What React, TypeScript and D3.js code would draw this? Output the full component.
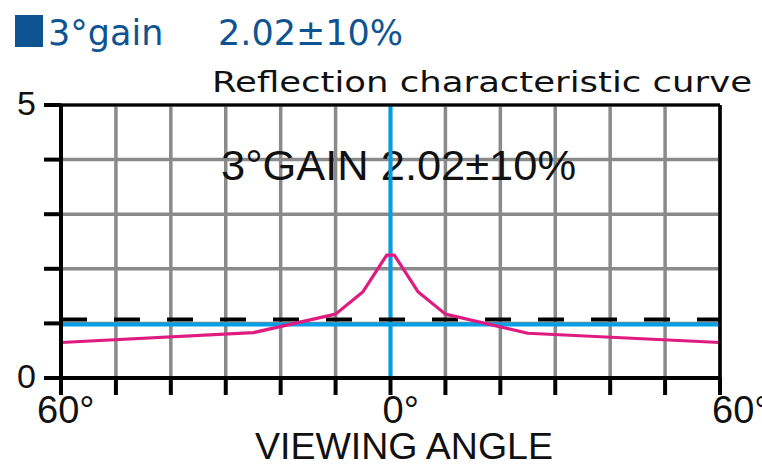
import React from "react";
import * as d3 from "d3";

// ---- data ----
const angles = [-60, -25, -10, -5, -0.7, 0.7, 5, 10, 25, 60];
const gains = [0.65, 0.83, 1.17, 1.58, 2.25, 2.25, 1.58, 1.17, 0.82, 0.65];
const xTickValues = [-60, -50, -40, -30, -20, -10, 0, 10, 20, 30, 40, 50, 60];
const yTickValues = [0, 1, 2, 3, 4, 5];
const xLabelValues = [-60, 0, 60];
const xLabelTexts = ["60°", "0°", "60°"];
const yLabelValues = [0, 5];
const referenceLevel = 1.07; // dashed line
const baseLevel = 0.98; // blue horizontal line
const titleGain = "3°gain";
const titleValue = "2.02±10%";
const subtitle = "Reflection characteristic curve";
const innerLabel = "3°GAIN 2.02±10%";
const xAxisTitle = "VIEWING ANGLE";

const W = 762;
const H = 466;
const left = 61;
const right = 720;
const top = 105;
const bottom = 378;

export default function App() {
  const x = d3.scaleLinear().domain([-60, 60]).range([left, right]);
  const y = d3.scaleLinear().domain([0, 5]).range([bottom, top]);
  const pts = angles.map((a, i) => [a, gains[i]] as [number, number]);
  const line = d3
    .line<[number, number]>()
    .x((d) => x(d[0]))
    .y((d) => y(d[1]));

  const xLabelDx = [-24, -8, -8];
  const blue = "#00a0e9";
  const grid = "#8a8a8a";

  return (
    <svg
      width={W}
      height={H}
      style={{ position: "fixed", left: 0, top: 0, background: "#fff" }}
    >
      <rect x={0} y={0} width={W} height={H} fill="#fff" />
      {/* title */}
      <rect x={15} y={15} width={28} height={32} fill="#0e5492" />
      <text x={48} y={45} fontFamily="DejaVu Sans" fontSize={35} fill="#0e5492">
        {titleGain}
      </text>
      <text x={218} y={45} fontFamily="DejaVu Sans" fontSize={35} fill="#0e5492">
        {titleValue}
      </text>
      <text
        x={212}
        y={92}
        fontFamily="DejaVu Sans"
        fontSize={28.5}
        fill="#111"
        textLength={540}
        lengthAdjust="spacingAndGlyphs"
      >
        {subtitle}
      </text>

      {/* grid */}
      {xTickValues.map((v) => (
        <line
          key={"gx" + v}
          x1={x(v)}
          x2={x(v)}
          y1={top}
          y2={bottom}
          stroke={grid}
          strokeWidth={3.5}
        />
      ))}
      {yTickValues.map((v) => (
        <line
          key={"gy" + v}
          x1={left}
          x2={right}
          y1={y(v)}
          y2={y(v)}
          stroke={grid}
          strokeWidth={3.5}
        />
      ))}

      {/* inner label */}
      <text
        x={221}
        y={180}
        fontFamily="Liberation Sans"
        fontSize={42}
        fill="#111"
        textLength={355}
        lengthAdjust="spacingAndGlyphs"
      >
        {innerLabel}
      </text>

      {/* blue reference lines */}
      <line x1={x(0)} x2={x(0)} y1={top} y2={bottom} stroke={blue} strokeWidth={4} />
      <line
        x1={left}
        x2={right}
        y1={y(baseLevel)}
        y2={y(baseLevel)}
        stroke={blue}
        strokeWidth={4}
      />
      <line
        x1={left}
        x2={right}
        y1={y(referenceLevel)}
        y2={y(referenceLevel)}
        stroke="#000"
        strokeWidth={4}
        strokeDasharray="26 27"
      />

      {/* curve */}
      <path
        d={line(pts) || ""}
        fill="none"
        stroke="#e01b80"
        strokeWidth={3.2}
        strokeLinejoin="round"
      />

      {/* frame */}
      <line x1={left} x2={right} y1={top} y2={top} stroke="#000" strokeWidth={3} />
      <line x1={right} x2={right} y1={top} y2={bottom} stroke="#000" strokeWidth={3.5} />
      <line x1={left} x2={left} y1={top} y2={bottom + 17} stroke="#000" strokeWidth={4} />
      <line x1={left - 17} x2={right} y1={bottom} y2={bottom} stroke="#000" strokeWidth={4} />

      {/* ticks */}
      {yTickValues.map((v) => (
        <line
          key={"ty" + v}
          x1={left - 17}
          x2={left}
          y1={y(v)}
          y2={y(v)}
          stroke="#000"
          strokeWidth={4}
        />
      ))}
      {xTickValues.map((v) => (
        <line
          key={"tx" + v}
          x1={x(v)}
          x2={x(v)}
          y1={bottom}
          y2={bottom + 17}
          stroke="#000"
          strokeWidth={4}
        />
      ))}

      {/* labels */}
      {yLabelValues.map((v) => (
        <text
          key={"ly" + v}
          x={36}
          y={y(v) + 10}
          textAnchor="end"
          fontFamily="Liberation Sans"
          fontSize={34}
          fill="#111"
        >
          {v}
        </text>
      ))}
      {xLabelValues.map((v, i) => (
        <text
          key={"lx" + i}
          x={x(v) + xLabelDx[i]}
          y={423}
          fontFamily="Liberation Sans"
          fontSize={38}
          fill="#111"
        >
          {xLabelTexts[i]}
        </text>
      ))}
      <text
        x={255}
        y={459}
        fontFamily="Liberation Sans"
        fontSize={36}
        fill="#111"
        textLength={298}
        lengthAdjust="spacingAndGlyphs"
      >
        {xAxisTitle}
      </text>
    </svg>
  );
}
